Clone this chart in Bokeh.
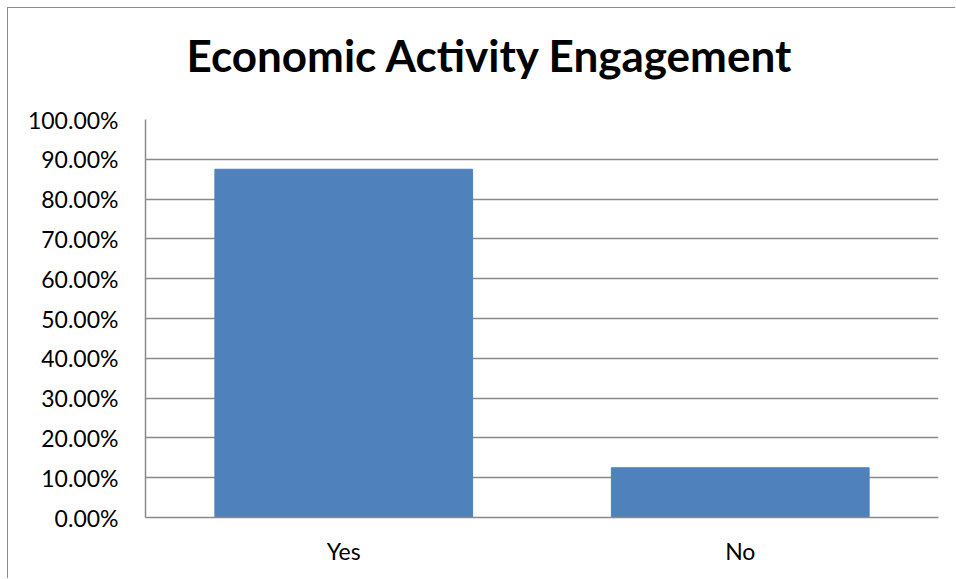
from bokeh.plotting import figure
from bokeh.models import FactorRange, Range1d, NumeralTickFormatter, Title, SingleIntervalTicker
from bokeh.embed import file_html
from bokeh.resources import INLINE

categories = ["Yes", "No"]
shares = [0.875, 0.125]
title_text = "Economic Activity Engagement"

p = figure(width=948, height=571, x_range=FactorRange(*categories, range_padding=0),
           y_range=Range1d(0, 1), output_backend="svg", toolbar_location=None, title=None,
           min_border_left=137, min_border_right=18, min_border_top=111, min_border_bottom=62)
p.styles = {"border-left": "1px solid #8a8a8a", "border-top": "1px solid #8a8a8a",
            "margin-left": "7px", "margin-top": "7px"}
p.outline_line_color = None
p.background_fill_color = "white"
p.border_fill_color = "white"

p.vbar(x=categories, top=shares, width=0.65, color="#4F81BD")

p.yaxis.ticker = SingleIntervalTicker(interval=0.1)
p.yaxis.formatter = NumeralTickFormatter(format="0.00%")
for ax in (p.xaxis, p.yaxis):
    ax.axis_line_color = "#8a8a8a"
    ax.axis_line_width = 1.5
    ax.major_tick_line_color = None
    ax.minor_tick_line_color = None
    ax.major_label_text_font = "Lato"
    ax.major_label_text_font_size = "23px"
    ax.major_label_text_color = "black"
p.yaxis.major_label_standoff = 21
p.xaxis.major_label_standoff = 13
p.xgrid.grid_line_color = None
p.ygrid.grid_line_color = "#8a8a8a"
p.ygrid.grid_line_width = 1.5

spacer = Title(text=" ", standoff=36, text_font_size="1px", text_color="white")
p.add_layout(spacer, "above")
t = Title(text=title_text, align="left", offset=41, standoff=0, text_font="Lato",
          text_font_style="bold", text_font_size="44px", text_color="black")
p.add_layout(t, "above")

open("out.html", "w").write(file_html(p, INLINE))
